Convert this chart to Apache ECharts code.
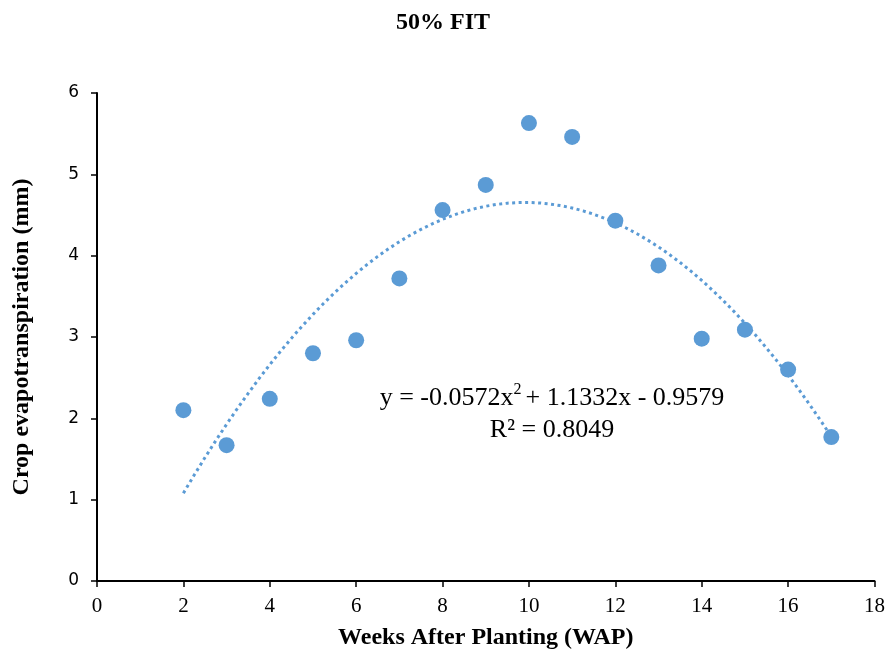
<!DOCTYPE html>
<html>
<head>
<meta charset="utf-8">
<script src="https://cdn.jsdelivr.net/npm/echarts@6/dist/echarts.min.js"></script>
<style>html,body{margin:0;padding:0;background:#fff}#c{width:888px;height:657px}</style>
</head>
<body>
<div id="c"></div>
<script>
const weeks = [2, 3, 4, 5, 6, 7, 8, 9, 10, 11, 12, 13, 14, 15, 16, 17];
const etc = [2.10, 1.67, 2.24, 2.80, 2.96, 3.72, 4.56, 4.87, 5.63, 5.46, 4.43, 3.88, 2.98, 3.09, 2.60, 1.77];
// trendline coefficients as printed on the chart: y = a x^2 + b x + c
const trendCoef = [-0.0572, 1.1332, -0.9579];
const xTicks = [0, 2, 4, 6, 8, 10, 12, 14, 16, 18];
const yTicks = [0, 1, 2, 3, 4, 5, 6];

const trend = [];
for (let x = weeks[0]; x <= weeks[weeks.length - 1] + 1e-9; x += 0.25) {
  trend.push([x, trendCoef[0] * x * x + trendCoef[1] * x + trendCoef[2]]);
}

const chart = echarts.init(document.getElementById('c'), null, {renderer: 'canvas'});
const blue = '#5B9BD5';
chart.setOption({
  animation: false,
  title: {
    text: '50% FIT', left: 438, top: 6, textAlign: 'center',
    textStyle: {fontFamily: 'Liberation Serif', fontWeight: 'bold', fontSize: 24, color: '#000'}
  },
  grid: {left: 97, right: 10, top: 93, bottom: 76},
  xAxis: {
    type: 'value', min: xTicks[0], max: xTicks[xTicks.length - 1], interval: xTicks[1] - xTicks[0],
    name: 'Weeks After Planting (WAP)', nameLocation: 'middle', nameGap: 45,
    nameTextStyle: {fontFamily: 'Liberation Serif', fontWeight: 'bold', fontSize: 24, color: '#000', verticalAlign: 'top'},
    axisLine: {show: true, lineStyle: {color: '#000', width: 2}},
    axisTick: {show: true, length: 6, lineStyle: {color: '#000', width: 1.5}},
    axisLabel: {fontFamily: 'Liberation Serif', fontSize: 21, color: '#000', margin: 15},
    splitLine: {show: false}
  },
  yAxis: {
    type: 'value', min: yTicks[0], max: yTicks[yTicks.length - 1], interval: yTicks[1] - yTicks[0],
    name: 'Crop evapotranspiration (mm)', nameLocation: 'middle', nameGap: 63, nameRotate: 90,
    nameTextStyle: {fontFamily: 'Liberation Serif', fontWeight: 'bold', fontSize: 24, color: '#000'},
    axisLine: {show: true, lineStyle: {color: '#000', width: 2}},
    axisTick: {show: true, length: 6, lineStyle: {color: '#000', width: 1.5}},
    axisLabel: {fontFamily: 'DejaVu Sans', fontSize: 17, color: '#000', margin: 18},
    splitLine: {show: false}
  },
  series: [
    {
      type: 'line', data: trend, showSymbol: false, smooth: false, silent: true,
      lineStyle: {color: blue, width: 3, type: [3, 3.5]}, z: 2
    },
    {
      type: 'scatter', data: weeks.map((w, i) => [w, etc[i]]), symbolSize: 16,
      itemStyle: {color: blue, opacity: 1}, z: 3
    }
  ],
  graphic: [{
    type: 'text', x: 552, y: 414, silent: true,
    style: {
      text: '{a|y = -0.0572x}{s|2}{a|+ 1.1332x - 0.9579}\n{a|R² = 0.8049}',
      align: 'center', verticalAlign: 'middle',
      rich: {
        a: {fontFamily: 'Liberation Serif', fontSize: 26, color: '#000', lineHeight: 32, align: 'center'},
        s: {fontFamily: 'Liberation Serif', fontSize: 16, color: '#000', verticalAlign: 'top', lineHeight: 32, padding: [0, 4, 0, 0]}
      }
    }
  }]
});
</script>
</body>
</html>
